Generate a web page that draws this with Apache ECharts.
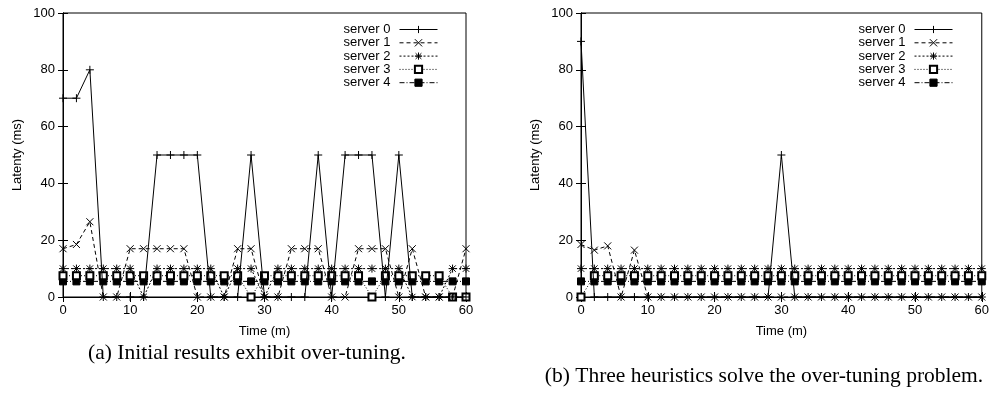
<!DOCTYPE html>
<html>
<head>
<meta charset="utf-8">
<script src="https://cdn.jsdelivr.net/npm/echarts@6/dist/echarts.min.js"></script>
<style>
html,body{margin:0;padding:0;background:#fff;}
#chart{width:992px;height:394px;}
</style>
</head>
<body>
<div id="chart"></div>
<script>
// ---- data ----
const times = [0,2,4,6,8,10,12,14,16,18,20,22,24,26,28,30,32,34,36,38,40,42,44,46,48,50,52,54,56,58,60];
const seriesNames = ['server 0','server 1','server 2','server 3','server 4'];
const xTicks = [0,10,20,30,40,50,60];
const yTicks = [0,20,40,60,80,100];
const xLabel = 'Time (m)';
const yLabel = 'Latenty (ms)';
const captionA = '(a) Initial results exhibit over-tuning.';
const captionB = '(b) Three heuristics solve the over-tuning problem.';

// (a) initial results
const aServer0 = [70,70,80,0,0,0,0,50,50,50,50,0,0,0,50,0,0,0,0,50,0,50,50,50,0,50,0,0,0,0,0];
const aServer1 = [17,18.5,26.5,0,0,17,17,17,17,17,0,0,0,17,17,0,0,17,17,17,0,0,17,17,17,0,17,0,0,0,17];
const aServer2 = [10,10,10,10,10,10,0,10,10,10,10,10,0,10,10,0,10,10,10,10,10,10,10,10,10,10,0,0,0,10,10];
const aServer3 = [7.5,7.5,7.5,7.5,7.5,7.5,7.5,7.5,7.5,7.5,7.5,7.5,7.5,7.5,0,7.5,7.5,7.5,7.5,7.5,7.5,7.5,7.5,0,7.5,7.5,7.5,7.5,7.5,0,0];
const aServer4 = [5.5,5.5,5.5,5.5,5.5,5.5,5.5,5.5,5.5,5.5,5.5,5.5,5.5,5.5,5.5,5.5,5.5,5.5,5.5,5.5,5.5,5.5,5.5,5.5,5.5,5.5,5.5,5.5,5.5,5.5,5.5];

// (b) with heuristics
const bServer0 = [90,0,0,0,0,0,0,0,0,0,0,0,0,0,0,50,0,0,0,0,0,0,0,0,0,0,0,0,0,0,0];
const bServer1 = [18.5,16.5,18,0,16.5,0,0,0,0,0,0,0,0,0,0,0,0,0,0,0,0,0,0,0,0,0,0,0,0,0,0];
const bServer2 = [10,10,10,10,10,10,10,10,10,10,10,10,10,10,10,10,10,10,10,10,10,10,10,10,10,10,10,10,10,10,10];
const bServer3 = [0,7.5,7.5,7.5,7.5,7.5,7.5,7.5,7.5,7.5,7.5,7.5,7.5,7.5,7.5,7.5,7.5,7.5,7.5,7.5,7.5,7.5,7.5,7.5,7.5,7.5,7.5,7.5,7.5,7.5,7.5];
const bServer4 = [5.5,5.5,5.5,5.5,5.5,5.5,5.5,5.5,5.5,5.5,5.5,5.5,5.5,5.5,5.5,5.5,5.5,5.5,5.5,5.5,5.5,5.5,5.5,5.5,5.5,5.5,5.5,5.5,5.5,5.5,5.5];

// ---- styles ----
const SANS = '"Liberation Sans", Arial, Helvetica, sans-serif';
const SERIF = '"Liberation Serif", "Times New Roman", serif';
const styles = [
  {symbol:'path://M5,0L5,10M0,5L10,5', size:8, line:'solid'},
  {symbol:'path://M0,0L10,10M10,0L0,10', size:7, line:[4,3]},
  {symbol:'path://M5,0L5,10M0,5L10,5M1,1L9,9M9,1L1,9', size:8, line:[2,2]},
  {symbol:'emptyRect', size:7, line:[1,2]},
  {symbol:'rect', size:7, line:[5,2,1,2]}
];

const grids = [
  {left:63, top:13, width:403, height:284},
  {left:581, top:13, width:401, height:284}
];
const panels = [
  [aServer0,aServer1,aServer2,aServer3,aServer4],
  [bServer0,bServer1,bServer2,bServer3,bServer4]
];

const xAxes = [], yAxes = [], series = [];
grids.forEach((g, gi) => {
  const baseX = {
    type:'value', gridIndex:gi, min:xTicks[0], max:xTicks[xTicks.length-1], interval:10,
    axisLine:{show:true, lineStyle:{color:'#000', width:1}},
    axisTick:{show:true, inside:true, length:5, lineStyle:{color:'#000'}},
    splitLine:{show:false}
  };
  xAxes.push(Object.assign({}, baseX, {
    position:'bottom',
    axisLabel:{show:true, margin:7, color:'#000', fontSize:13, fontFamily:SANS},
    name:xLabel, nameLocation:'middle', nameGap:28,
    nameTextStyle:{color:'#000', fontSize:13, fontFamily:SANS}
  }));
  xAxes.push(Object.assign({}, baseX, {position:'top', axisLabel:{show:false}}));
  const baseY = {
    type:'value', gridIndex:gi, min:yTicks[0], max:yTicks[yTicks.length-1], interval:20,
    axisLine:{show:true, lineStyle:{color:'#000', width:1}},
    axisTick:{show:true, inside:true, length:5, lineStyle:{color:'#000'}},
    splitLine:{show:false}
  };
  yAxes.push(Object.assign({}, baseY, {
    position:'left',
    axisLabel:{show:true, margin:8, color:'#000', fontSize:13, fontFamily:SANS},
    name:yLabel, nameLocation:'middle', nameGap:39,
    nameTextStyle:{color:'#000', fontSize:13, fontFamily:SANS}
  }));
  yAxes.push(Object.assign({}, baseY, {position:'right', axisLabel:{show:false}}));

  panels[gi].forEach((vals, si) => {
    const st = styles[si];
    series.push({
      type:'line', name:seriesNames[si],
      xAxisIndex:gi*2, yAxisIndex:gi*2,
      data: times.map((t, k) => [t, vals[k]]),
      symbol:st.symbol, symbolSize:st.size, showAllSymbol:true,
      lineStyle:{color:'#000', width:1, type:st.line},
      itemStyle:{color:'#000', borderColor:'#000', borderWidth:1},
      emphasis:{disabled:true},
      z: 10 - si
    });
  });
});

const legendBase = {
  orient:'vertical', align:'right', itemWidth:38, itemHeight:9, itemGap:0.3, padding:0,
  top:23, data:seriesNames, selectedMode:false,
  itemStyle:{borderWidth:1},
  lineStyle:{width:1},
  textStyle:{color:'#000', fontSize:13, fontFamily:SANS, lineHeight:13, padding:[0,4,0,0]}
};

const chart = echarts.init(document.getElementById('chart'), null, {renderer:'canvas'});
chart.setOption({
  animation:false,
  backgroundColor:'#fff',
  grid: grids.map(g => Object.assign({show:true, borderColor:'#000', borderWidth:1, backgroundColor:'transparent'}, g)),
  xAxis: xAxes,
  yAxis: yAxes,
  legend: [
    Object.assign({}, legendBase, {right:554}),
    Object.assign({}, legendBase, {right:39})
  ],
  title: [
    {text:captionA, left:247, top:342, textAlign:'center', padding:0,
     textStyle:{color:'#000', fontSize:21.5, fontWeight:'normal', fontFamily:SERIF}},
    {text:captionB, left:764, top:365, textAlign:'center', padding:0,
     textStyle:{color:'#000', fontSize:21.5, fontWeight:'normal', fontFamily:SERIF}}
  ],
  series: series
});
</script>
</body>
</html>
